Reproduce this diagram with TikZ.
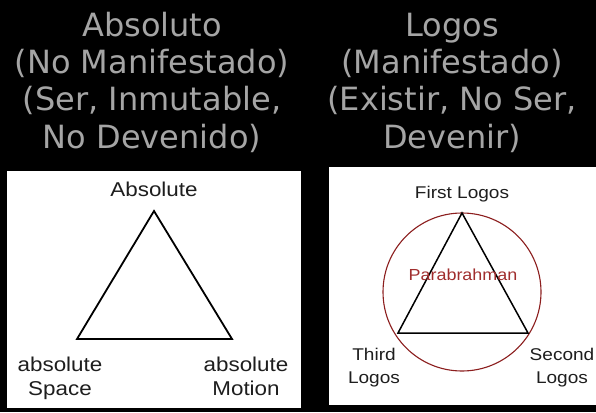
\documentclass[tikz,border=0pt]{standalone}
\usepackage{fontspec}
\newfontfamily\hdrfont{DejaVu Sans}
\newfontfamily\labfont{Liberation Sans}
\newcommand\wx[1]{\scalebox{1.12}[1]{#1}}
\definecolor{hdrgray}{RGB}{165,165,165}
\definecolor{labink}{RGB}{30,30,30}
\definecolor{parared}{RGB}{160,45,45}
\definecolor{circred}{RGB}{140,30,30}
\tikzset{
  hdr/.style={font=\fontsize{32}{37.3}\selectfont\hdrfont, text=hdrgray, align=center, inner sep=0pt, anchor=north},
  lab/.style={font=\fontsize{20}{24}\selectfont\labfont, text=labink, align=center, inner sep=0pt},
  labr/.style={font=\fontsize{17}{23}\selectfont\labfont, text=labink, align=center, inner sep=0pt},
  panel/.style={fill=white, draw=none},
  tri/.style={draw=black, line width=1.8pt, line join=miter},
  trir/.style={draw=black, line width=1.5pt},
}
\begin{document}
\begin{tikzpicture}[x=1pt,y=-1pt]
\useasboundingbox (0,0) rectangle (596,412);
\fill[black] (0,0) rectangle (596,412);
% headers
\node[hdr] (hl) at (152,11.7) {Absoluto\\(No Manifestado)\\(Ser, Inmutable,\\No Devenido)};
\node[hdr] (hr) at (452,12.7) {Logos\\(Manifestado)\\(Existir, No Ser,\\Devenir)};
% panels
\fill[panel] (7,171) rectangle (301,408);
\fill[panel] (329,167) rectangle (596,405);
% left diagram
\coordinate (la) at (154,211);
\coordinate (lb) at (77,339);
\coordinate (lc) at (232,339);
\draw[tri] (la) -- (lb) -- (lc) -- cycle;
\node[lab, anchor=base] (labs) at (154,196) {\wx{Absolute}};
\node[lab, anchor=north] (lsp) at (60,357) {\wx{absolute}\\\wx{Space}};
\node[lab, anchor=north] (lmo) at (246,357) {\wx{absolute}\\\wx{Motion}};
% right diagram
\node[circle, draw=circred, line width=1.1pt, minimum size=158pt, inner sep=0pt] (circ) at (462,292) {};
\coordinate (ra) at (462,213);
\coordinate (rb) at (398,333);
\coordinate (rc) at (528,333);
\draw[trir] (ra) -- (rb) -- (rc) -- cycle;
\node[labr, anchor=base] (first) at (462,198) {\wx{First Logos}};
\node[labr, anchor=base, font=\fontsize{16}{20}\selectfont\labfont, text=parared] (para) at (463,280) {\wx{Parabrahman}};
\node[labr, anchor=north] (third) at (374,347.5) {\wx{Third}\\\wx{Logos}};
\node[labr, anchor=north] (second) at (562,347.5) {\wx{Second}\\\wx{Logos}};
\end{tikzpicture}
\end{document}
